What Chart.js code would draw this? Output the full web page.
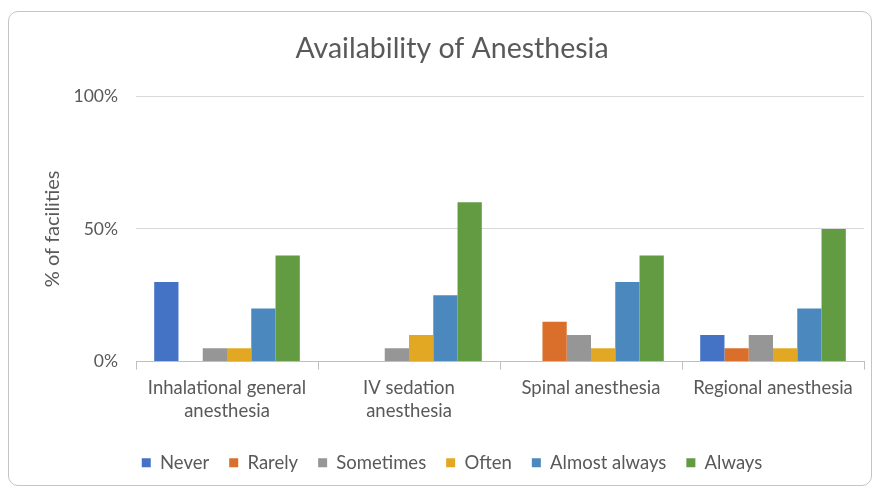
<!DOCTYPE html>
<html>
<head>
<meta charset="utf-8">
<script src="https://cdn.jsdelivr.net/npm/chart.js@4/dist/chart.umd.min.js"></script>
<style>
  html, body { margin: 0; padding: 0; background: #fff; }
  #wrap { position: relative; width: 878px; height: 491px; }
  #frame { position: absolute; left: 8px; top: 11px; width: 864px; height: 475px;
           border: 1px solid #c4c4c4; border-radius: 10px; box-sizing: border-box; }
  canvas { position: absolute; left: 0; top: 0; }
</style>
</head>
<body>
<div id="wrap">
  <div id="frame"></div>
  <canvas id="c" width="878" height="491"></canvas>
</div>
<script>
const categories = [
  ['Inhalational general', 'anesthesia'],
  ['IV sedation', 'anesthesia'],
  'Spinal anesthesia',
  'Regional anesthesia'
];
const seriesNames = ['Never', 'Rarely', 'Sometimes', 'Often', 'Almost always', 'Always'];
const never        = [30, 0, 0, 10];
const rarely       = [0, 0, 15, 5];
const sometimes    = [5, 5, 10, 10];
const often        = [5, 10, 5, 5];
const almostAlways = [20, 25, 30, 20];
const always       = [40, 60, 40, 50];
const yTicks = [0, 50, 100];
const colors = ['#4472C4', '#DA6F2C', '#969696', '#E3A823', '#4A88BE', '#629B42'];

const seriesValues = [never, rarely, sometimes, often, almostAlways, always];
const FONT = 'Lato';
const GREY = '#595959';

new Chart(document.getElementById('c'), {
  type: 'bar',
  data: {
    labels: categories,
    datasets: seriesNames.map((n, i) => ({
      label: n,
      data: seriesValues[i],
      backgroundColor: colors[i],
      borderWidth: 0,
      barPercentage: 1.0,
      categoryPercentage: 0.8
    }))
  },
  options: {
    responsive: false,
    animation: false,
    layout: { padding: { left: 40, right: 14, top: 0, bottom: 9 } },
    plugins: {
      title: {
        display: true,
        text: 'Availability of Anesthesia',
        color: GREY,
        font: { family: FONT, size: 28.5, weight: 'normal' },
        padding: { top: 32, bottom: 30 }
      },
      legend: {
        position: 'bottom',
        labels: {
          boxWidth: 9, boxHeight: 9,
          color: GREY,
          font: { family: FONT, size: 18.5 },
          padding: 20
        }
      },
      tooltip: { enabled: false }
    },
    scales: {
      x: {
        afterFit: s => { s.height = s.height + 4; },
        grid: { offset: true, drawOnChartArea: false, drawTicks: true, tickLength: 8, color: '#bfbfbf' },
        border: { color: '#bfbfbf', width: 1 },
        ticks: { color: GREY, font: { family: FONT, size: 18.5, lineHeight: 1.24 }, padding: 7, maxRotation: 0, autoSkip: false }
      },
      y: {
        min: 0, max: 100,
        afterFit: s => { s.width = 96; },
        afterBuildTicks: s => { s.ticks = yTicks.map(v => ({ value: v })); },
        grid: { color: '#d9d9d9', drawTicks: false },
        border: { display: false },
        ticks: { color: GREY, font: { family: FONT, size: 17.5 }, padding: 18, callback: v => v + '%' },
        title: {
          display: true, text: '% of facilities', color: GREY,
          font: { family: FONT, size: 20 }, padding: { top: 1, bottom: 0 }
        }
      }
    }
  }
});
</script>
</body>
</html>
